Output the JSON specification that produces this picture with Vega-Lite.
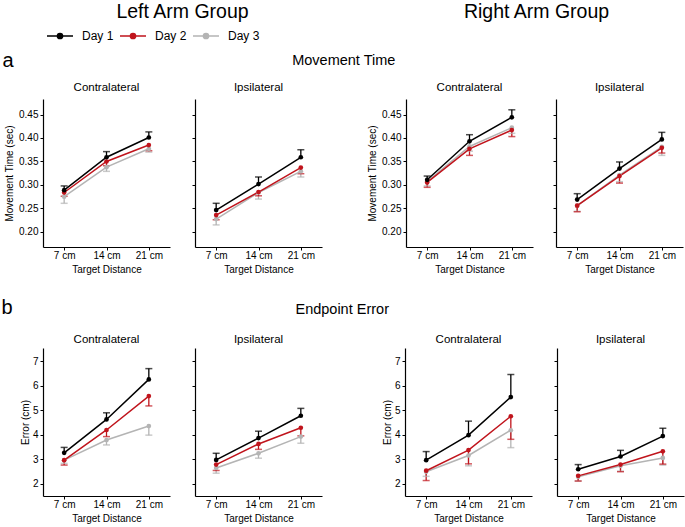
{
"$schema":"https://vega.github.io/schema/vega-lite/v6.json",
"padding":{"left":1,"top":1,"right":1,"bottom":1},
"datasets":{"d":[
{"m":"MT","g":"L","s":"C","day":"Day 3","dist":"7 cm","mean":0.275,"err":0.261},
{"m":"MT","g":"L","s":"C","day":"Day 3","dist":"14 cm","mean":0.338,"err":0.329},
{"m":"MT","g":"L","s":"C","day":"Day 3","dist":"21 cm","mean":0.377,"err":0.370},
{"m":"MT","g":"L","s":"C","day":"Day 2","dist":"7 cm","mean":0.284,"err":0.276},
{"m":"MT","g":"L","s":"C","day":"Day 2","dist":"14 cm","mean":0.350,"err":0.341},
{"m":"MT","g":"L","s":"C","day":"Day 2","dist":"21 cm","mean":0.385,"err":0.373},
{"m":"MT","g":"L","s":"C","day":"Day 1","dist":"7 cm","mean":0.289,"err":0.298},
{"m":"MT","g":"L","s":"C","day":"Day 1","dist":"14 cm","mean":0.359,"err":0.371},
{"m":"MT","g":"L","s":"C","day":"Day 1","dist":"21 cm","mean":0.401,"err":0.413},
{"m":"MT","g":"L","s":"I","day":"Day 3","dist":"7 cm","mean":0.2275,"err":0.215},
{"m":"MT","g":"L","s":"I","day":"Day 3","dist":"14 cm","mean":0.284,"err":0.270},
{"m":"MT","g":"L","s":"I","day":"Day 3","dist":"21 cm","mean":0.329,"err":0.317},
{"m":"MT","g":"L","s":"I","day":"Day 2","dist":"7 cm","mean":0.236,"err":0.226},
{"m":"MT","g":"L","s":"I","day":"Day 2","dist":"14 cm","mean":0.285,"err":0.277},
{"m":"MT","g":"L","s":"I","day":"Day 2","dist":"21 cm","mean":0.337,"err":0.324},
{"m":"MT","g":"L","s":"I","day":"Day 1","dist":"7 cm","mean":0.2465,"err":0.261},
{"m":"MT","g":"L","s":"I","day":"Day 1","dist":"14 cm","mean":0.302,"err":0.317},
{"m":"MT","g":"L","s":"I","day":"Day 1","dist":"21 cm","mean":0.359,"err":0.375},
{"m":"MT","g":"R","s":"C","day":"Day 3","dist":"7 cm","mean":0.3075,"err":0.298},
{"m":"MT","g":"R","s":"C","day":"Day 3","dist":"14 cm","mean":0.382,"err":0.372},
{"m":"MT","g":"R","s":"C","day":"Day 3","dist":"21 cm","mean":0.422,"err":0.410},
{"m":"MT","g":"R","s":"C","day":"Day 2","dist":"7 cm","mean":0.3055,"err":0.295},
{"m":"MT","g":"R","s":"C","day":"Day 2","dist":"14 cm","mean":0.377,"err":0.363},
{"m":"MT","g":"R","s":"C","day":"Day 2","dist":"21 cm","mean":0.417,"err":0.403},
{"m":"MT","g":"R","s":"C","day":"Day 1","dist":"7 cm","mean":0.311,"err":0.319},
{"m":"MT","g":"R","s":"C","day":"Day 1","dist":"14 cm","mean":0.393,"err":0.407},
{"m":"MT","g":"R","s":"C","day":"Day 1","dist":"21 cm","mean":0.444,"err":0.460},
{"m":"MT","g":"R","s":"I","day":"Day 3","dist":"7 cm","mean":0.256,"err":0.244},
{"m":"MT","g":"R","s":"I","day":"Day 3","dist":"14 cm","mean":0.321,"err":0.307},
{"m":"MT","g":"R","s":"I","day":"Day 3","dist":"21 cm","mean":0.381,"err":0.363},
{"m":"MT","g":"R","s":"I","day":"Day 2","dist":"7 cm","mean":0.256,"err":0.243},
{"m":"MT","g":"R","s":"I","day":"Day 2","dist":"14 cm","mean":0.319,"err":0.304},
{"m":"MT","g":"R","s":"I","day":"Day 2","dist":"21 cm","mean":0.379,"err":0.368},
{"m":"MT","g":"R","s":"I","day":"Day 1","dist":"7 cm","mean":0.269,"err":0.2815},
{"m":"MT","g":"R","s":"I","day":"Day 1","dist":"14 cm","mean":0.335,"err":0.349},
{"m":"MT","g":"R","s":"I","day":"Day 1","dist":"21 cm","mean":0.397,"err":0.412},
{"m":"EE","g":"L","s":"C","day":"Day 3","dist":"7 cm","mean":2.96,"err":2.83},
{"m":"EE","g":"L","s":"C","day":"Day 3","dist":"14 cm","mean":3.78,"err":3.58},
{"m":"EE","g":"L","s":"C","day":"Day 3","dist":"21 cm","mean":4.35,"err":3.98},
{"m":"EE","g":"L","s":"C","day":"Day 2","dist":"7 cm","mean":2.96,"err":2.76},
{"m":"EE","g":"L","s":"C","day":"Day 2","dist":"14 cm","mean":4.19,"err":3.92},
{"m":"EE","g":"L","s":"C","day":"Day 2","dist":"21 cm","mean":5.57,"err":5.17},
{"m":"EE","g":"L","s":"C","day":"Day 1","dist":"7 cm","mean":3.26,"err":3.48},
{"m":"EE","g":"L","s":"C","day":"Day 1","dist":"14 cm","mean":4.62,"err":4.89},
{"m":"EE","g":"L","s":"C","day":"Day 1","dist":"21 cm","mean":6.25,"err":6.69},
{"m":"EE","g":"L","s":"I","day":"Day 3","dist":"7 cm","mean":2.64,"err":2.43},
{"m":"EE","g":"L","s":"I","day":"Day 3","dist":"14 cm","mean":3.24,"err":3.04},
{"m":"EE","g":"L","s":"I","day":"Day 3","dist":"21 cm","mean":3.92,"err":3.65},
{"m":"EE","g":"L","s":"I","day":"Day 2","dist":"7 cm","mean":2.78,"err":2.54},
{"m":"EE","g":"L","s":"I","day":"Day 2","dist":"14 cm","mean":3.62,"err":3.40},
{"m":"EE","g":"L","s":"I","day":"Day 2","dist":"21 cm","mean":4.28,"err":3.95},
{"m":"EE","g":"L","s":"I","day":"Day 1","dist":"7 cm","mean":2.97,"err":3.24},
{"m":"EE","g":"L","s":"I","day":"Day 1","dist":"14 cm","mean":3.86,"err":4.14},
{"m":"EE","g":"L","s":"I","day":"Day 1","dist":"21 cm","mean":4.77,"err":5.07},
{"m":"EE","g":"R","s":"C","day":"Day 3","dist":"7 cm","mean":2.49,"err":2.30},
{"m":"EE","g":"R","s":"C","day":"Day 3","dist":"14 cm","mean":3.15,"err":2.73},
{"m":"EE","g":"R","s":"C","day":"Day 3","dist":"21 cm","mean":4.18,"err":3.47},
{"m":"EE","g":"R","s":"C","day":"Day 2","dist":"7 cm","mean":2.53,"err":2.13},
{"m":"EE","g":"R","s":"C","day":"Day 2","dist":"14 cm","mean":3.37,"err":2.81},
{"m":"EE","g":"R","s":"C","day":"Day 2","dist":"21 cm","mean":4.75,"err":3.81},
{"m":"EE","g":"R","s":"C","day":"Day 1","dist":"7 cm","mean":2.96,"err":3.31},
{"m":"EE","g":"R","s":"C","day":"Day 1","dist":"14 cm","mean":3.98,"err":4.55},
{"m":"EE","g":"R","s":"C","day":"Day 1","dist":"21 cm","mean":5.53,"err":6.45},
{"m":"EE","g":"R","s":"I","day":"Day 3","dist":"7 cm","mean":2.28,"err":2.11},
{"m":"EE","g":"R","s":"I","day":"Day 3","dist":"14 cm","mean":2.73,"err":2.51},
{"m":"EE","g":"R","s":"I","day":"Day 3","dist":"21 cm","mean":3.05,"err":2.76},
{"m":"EE","g":"R","s":"I","day":"Day 2","dist":"7 cm","mean":2.32,"err":2.11},
{"m":"EE","g":"R","s":"I","day":"Day 2","dist":"14 cm","mean":2.78,"err":2.49},
{"m":"EE","g":"R","s":"I","day":"Day 2","dist":"21 cm","mean":3.32,"err":2.80},
{"m":"EE","g":"R","s":"I","day":"Day 1","dist":"7 cm","mean":2.59,"err":2.78},
{"m":"EE","g":"R","s":"I","day":"Day 1","dist":"14 cm","mean":3.11,"err":3.36},
{"m":"EE","g":"R","s":"I","day":"Day 1","dist":"21 cm","mean":3.94,"err":4.26}
]},
"config":{
"font":"Liberation Sans",
"view":{"stroke":null},
"axis":{"grid":false,"domainColor":"#000","domainWidth":1.2,"tickColor":"#000","tickWidth":1,"tickSize":3,"labelColor":"#000","labelFontSize":10,"labelPadding":2,"titleColor":"#000","titleFontSize":10,"titleFontWeight":"normal"},
"axisX":{"titlePadding":4,"labelPadding":0},
"title":{"fontWeight":"normal","fontSize":11.5,"color":"#000","offset":5.3,"anchor":"middle"},
"legend":{"orient":"none","legendX":3,"legendY":0,"direction":"horizontal","columns":3,"gridAlign":"all","symbolType":"M-1,0L1,0M0.2,0A0.2,0.2,0,1,1,-0.2,0A0.2,0.2,0,1,1,0.2,0Z","symbolSize":676,"symbolStrokeWidth":1.5,"labelFontSize":12,"labelColor":"#000","labelOffset":8,"columnPadding":3}
},
"spacing":24,
"vconcat":[
{"hconcat":[
 {"width":279,"height":4,"data":{"values":[]},"mark":"point","encoding":{},"title":{"text":"Left Arm Group","fontSize":19.5,"offset":0}},
 {"width":320,"height":4,"data":{"values":[]},"mark":"point","encoding":{},"title":{"text":"Right Arm Group","fontSize":19.5,"offset":0,"dx":52.5}}
],"spacing":2},
{"title":{"text":"a","anchor":"start","fontSize":20,"dx":-2,"dy":18,"offset":0},
 "vconcat":[{"title":{"text":"Movement Time","fontSize":14.5,"offset":14},"spacing":45,"hconcat":[
  {"spacing":21,"hconcat":[
   {"width":127,"height":148,"title":{"text":"Contralateral","frame":"group"},"data":{"name":"d"},"transform":[{"filter":"datum.m=='MT'&&datum.g=='L'&&datum.s=='C'"}],
    "encoding":{"x":{"field":"dist","type":"ordinal","sort":["7 cm","14 cm","21 cm"],"scale":{"type":"point","padding":0.5},"axis":{"title":"Target Distance","labelAngle":0}},
     "color":{"field":"day","type":"nominal","title":null,"scale":{"domain":["Day 1","Day 2","Day 3"],"range":["#000000","#c0141c","#b4b4b4"]},"legend":{"encode":{"symbols":{"update":{"fill":{"scale":"color","field":"value"},"stroke":{"scale":"color","field":"value"}}}}}},
     "y":{"field":"mean","type":"quantitative","scale":{"domain":[0.168,0.483],"nice":false,"zero":false},"axis":{"title":"Movement Time (sec)","values":[0.2,0.25,0.3,0.35,0.4,0.45],"format":".2f","titlePadding":4}}},
    "layer":[
     {"mark":{"type":"rule","strokeWidth":1.3},"encoding":{"y2":{"field":"err"}}},
     {"mark":{"type":"tick","orient":"horizontal","size":7,"thickness":1.5},"encoding":{"y":{"field":"err","type":"quantitative","scale":{"domain":[0.168,0.483],"nice":false,"zero":false},"axis":{"title":"Movement Time (sec)","values":[0.2,0.25,0.3,0.35,0.4,0.45],"format":".2f","titlePadding":4}}}},
     {"mark":{"type":"line","strokeWidth":1.5},"encoding":{}},
     {"mark":{"type":"point","filled":true,"size":22,"opacity":1},"encoding":{}}
    ]},
   {"width":127,"height":148,"title":{"text":"Ipsilateral","frame":"group"},"data":{"name":"d"},"transform":[{"filter":"datum.m=='MT'&&datum.g=='L'&&datum.s=='I'"}],
    "encoding":{"x":{"field":"dist","type":"ordinal","sort":["7 cm","14 cm","21 cm"],"scale":{"type":"point","padding":0.5},"axis":{"title":"Target Distance","labelAngle":0}},
     "color":{"field":"day","type":"nominal","title":null,"scale":{"domain":["Day 1","Day 2","Day 3"],"range":["#000000","#c0141c","#b4b4b4"]}},
     "y":{"field":"mean","type":"quantitative","scale":{"domain":[0.168,0.483],"nice":false,"zero":false},"axis":{"title":null,"values":[0.2,0.25,0.3,0.35,0.4,0.45],"labels":false}}},
    "layer":[
     {"mark":{"type":"rule","strokeWidth":1.3},"encoding":{"y2":{"field":"err"}}},
     {"mark":{"type":"tick","orient":"horizontal","size":7,"thickness":1.5},"encoding":{"y":{"field":"err","type":"quantitative","scale":{"domain":[0.168,0.483],"nice":false,"zero":false},"axis":{"title":null,"values":[0.2,0.25,0.3,0.35,0.4,0.45],"labels":false}}}},
     {"mark":{"type":"line","strokeWidth":1.5},"encoding":{}},
     {"mark":{"type":"point","filled":true,"size":22,"opacity":1},"encoding":{}}
    ]}
  ]},
  {"spacing":19,"hconcat":[
   {"width":127,"height":148,"title":{"text":"Contralateral","frame":"group"},"data":{"name":"d"},"transform":[{"filter":"datum.m=='MT'&&datum.g=='R'&&datum.s=='C'"}],
    "encoding":{"x":{"field":"dist","type":"ordinal","sort":["7 cm","14 cm","21 cm"],"scale":{"type":"point","padding":0.5},"axis":{"title":"Target Distance","labelAngle":0}},
     "color":{"field":"day","type":"nominal","title":null,"scale":{"domain":["Day 1","Day 2","Day 3"],"range":["#000000","#c0141c","#b4b4b4"]}},
     "y":{"field":"mean","type":"quantitative","scale":{"domain":[0.168,0.483],"nice":false,"zero":false},"axis":{"title":"Movement Time (sec)","values":[0.2,0.25,0.3,0.35,0.4,0.45],"format":".2f","titlePadding":4}}},
    "layer":[
     {"mark":{"type":"rule","strokeWidth":1.3},"encoding":{"y2":{"field":"err"}}},
     {"mark":{"type":"tick","orient":"horizontal","size":7,"thickness":1.5},"encoding":{"y":{"field":"err","type":"quantitative","scale":{"domain":[0.168,0.483],"nice":false,"zero":false},"axis":{"title":"Movement Time (sec)","values":[0.2,0.25,0.3,0.35,0.4,0.45],"format":".2f","titlePadding":4}}}},
     {"mark":{"type":"line","strokeWidth":1.5},"encoding":{}},
     {"mark":{"type":"point","filled":true,"size":22,"opacity":1},"encoding":{}}
    ]},
   {"width":127,"height":148,"title":{"text":"Ipsilateral","frame":"group"},"data":{"name":"d"},"transform":[{"filter":"datum.m=='MT'&&datum.g=='R'&&datum.s=='I'"}],
    "encoding":{"x":{"field":"dist","type":"ordinal","sort":["7 cm","14 cm","21 cm"],"scale":{"type":"point","padding":0.5},"axis":{"title":"Target Distance","labelAngle":0}},
     "color":{"field":"day","type":"nominal","title":null,"scale":{"domain":["Day 1","Day 2","Day 3"],"range":["#000000","#c0141c","#b4b4b4"]}},
     "y":{"field":"mean","type":"quantitative","scale":{"domain":[0.168,0.483],"nice":false,"zero":false},"axis":{"title":null,"values":[0.2,0.25,0.3,0.35,0.4,0.45],"labels":false}}},
    "layer":[
     {"mark":{"type":"rule","strokeWidth":1.3},"encoding":{"y2":{"field":"err"}}},
     {"mark":{"type":"tick","orient":"horizontal","size":7,"thickness":1.5},"encoding":{"y":{"field":"err","type":"quantitative","scale":{"domain":[0.168,0.483],"nice":false,"zero":false},"axis":{"title":null,"values":[0.2,0.25,0.3,0.35,0.4,0.45],"labels":false}}}},
     {"mark":{"type":"line","strokeWidth":1.5},"encoding":{}},
     {"mark":{"type":"point","filled":true,"size":22,"opacity":1},"encoding":{}}
    ]}
  ]}
 ]}]},
{"title":{"text":"b","anchor":"start","fontSize":20,"dx":-19,"dy":16,"offset":0},
 "vconcat":[{"title":{"text":"Endpoint Error","fontSize":14.5,"offset":16,"dx":-10},"spacing":60,"hconcat":[
  {"spacing":21,"hconcat":[
   {"width":127,"height":148,"title":{"text":"Contralateral","frame":"group","offset":3},"data":{"name":"d"},"transform":[{"filter":"datum.m=='EE'&&datum.g=='L'&&datum.s=='C'"}],
    "encoding":{"x":{"field":"dist","type":"ordinal","sort":["7 cm","14 cm","21 cm"],"scale":{"type":"point","padding":0.5},"axis":{"title":"Target Distance","labelAngle":0}},
     "color":{"field":"day","type":"nominal","title":null,"scale":{"domain":["Day 1","Day 2","Day 3"],"range":["#000000","#c0141c","#b4b4b4"]}},
     "y":{"field":"mean","type":"quantitative","scale":{"domain":[1.5,7.53],"nice":false,"zero":false},"axis":{"title":"Error (cm)","values":[2,3,4,5,6,7],"titlePadding":2}}},
    "layer":[
     {"mark":{"type":"rule","strokeWidth":1.3},"encoding":{"y2":{"field":"err"}}},
     {"mark":{"type":"tick","orient":"horizontal","size":7,"thickness":1.5},"encoding":{"y":{"field":"err","type":"quantitative","scale":{"domain":[1.5,7.53],"nice":false,"zero":false},"axis":{"title":"Error (cm)","values":[2,3,4,5,6,7],"titlePadding":2}}}},
     {"mark":{"type":"line","strokeWidth":1.5},"encoding":{}},
     {"mark":{"type":"point","filled":true,"size":22,"opacity":1},"encoding":{}}
    ]},
   {"width":127,"height":148,"title":{"text":"Ipsilateral","frame":"group","offset":3},"data":{"name":"d"},"transform":[{"filter":"datum.m=='EE'&&datum.g=='L'&&datum.s=='I'"}],
    "encoding":{"x":{"field":"dist","type":"ordinal","sort":["7 cm","14 cm","21 cm"],"scale":{"type":"point","padding":0.5},"axis":{"title":"Target Distance","labelAngle":0}},
     "color":{"field":"day","type":"nominal","title":null,"scale":{"domain":["Day 1","Day 2","Day 3"],"range":["#000000","#c0141c","#b4b4b4"]}},
     "y":{"field":"mean","type":"quantitative","scale":{"domain":[1.5,7.53],"nice":false,"zero":false},"axis":{"title":null,"values":[2,3,4,5,6,7],"labels":false}}},
    "layer":[
     {"mark":{"type":"rule","strokeWidth":1.3},"encoding":{"y2":{"field":"err"}}},
     {"mark":{"type":"tick","orient":"horizontal","size":7,"thickness":1.5},"encoding":{"y":{"field":"err","type":"quantitative","scale":{"domain":[1.5,7.53],"nice":false,"zero":false},"axis":{"title":null,"values":[2,3,4,5,6,7],"labels":false}}}},
     {"mark":{"type":"line","strokeWidth":1.5},"encoding":{}},
     {"mark":{"type":"point","filled":true,"size":22,"opacity":1},"encoding":{}}
    ]}
  ]},
  {"spacing":21,"hconcat":[
   {"width":127,"height":148,"title":{"text":"Contralateral","frame":"group","offset":3},"data":{"name":"d"},"transform":[{"filter":"datum.m=='EE'&&datum.g=='R'&&datum.s=='C'"}],
    "encoding":{"x":{"field":"dist","type":"ordinal","sort":["7 cm","14 cm","21 cm"],"scale":{"type":"point","padding":0.5},"axis":{"title":"Target Distance","labelAngle":0}},
     "color":{"field":"day","type":"nominal","title":null,"scale":{"domain":["Day 1","Day 2","Day 3"],"range":["#000000","#c0141c","#b4b4b4"]}},
     "y":{"field":"mean","type":"quantitative","scale":{"domain":[1.5,7.53],"nice":false,"zero":false},"axis":{"title":"Error (cm)","values":[2,3,4,5,6,7],"titlePadding":2}}},
    "layer":[
     {"mark":{"type":"rule","strokeWidth":1.3},"encoding":{"y2":{"field":"err"}}},
     {"mark":{"type":"tick","orient":"horizontal","size":7,"thickness":1.5},"encoding":{"y":{"field":"err","type":"quantitative","scale":{"domain":[1.5,7.53],"nice":false,"zero":false},"axis":{"title":"Error (cm)","values":[2,3,4,5,6,7],"titlePadding":2}}}},
     {"mark":{"type":"line","strokeWidth":1.5},"encoding":{}},
     {"mark":{"type":"point","filled":true,"size":22,"opacity":1},"encoding":{}}
    ]},
   {"width":127,"height":148,"title":{"text":"Ipsilateral","frame":"group","offset":3},"data":{"name":"d"},"transform":[{"filter":"datum.m=='EE'&&datum.g=='R'&&datum.s=='I'"}],
    "encoding":{"x":{"field":"dist","type":"ordinal","sort":["7 cm","14 cm","21 cm"],"scale":{"type":"point","padding":0.5},"axis":{"title":"Target Distance","labelAngle":0}},
     "color":{"field":"day","type":"nominal","title":null,"scale":{"domain":["Day 1","Day 2","Day 3"],"range":["#000000","#c0141c","#b4b4b4"]}},
     "y":{"field":"mean","type":"quantitative","scale":{"domain":[1.5,7.53],"nice":false,"zero":false},"axis":{"title":null,"values":[2,3,4,5,6,7],"labels":false}}},
    "layer":[
     {"mark":{"type":"rule","strokeWidth":1.3},"encoding":{"y2":{"field":"err"}}},
     {"mark":{"type":"tick","orient":"horizontal","size":7,"thickness":1.5},"encoding":{"y":{"field":"err","type":"quantitative","scale":{"domain":[1.5,7.53],"nice":false,"zero":false},"axis":{"title":null,"values":[2,3,4,5,6,7],"labels":false}}}},
     {"mark":{"type":"line","strokeWidth":1.5},"encoding":{}},
     {"mark":{"type":"point","filled":true,"size":22,"opacity":1},"encoding":{}}
    ]}
  ]}
 ]}]}
]
}
